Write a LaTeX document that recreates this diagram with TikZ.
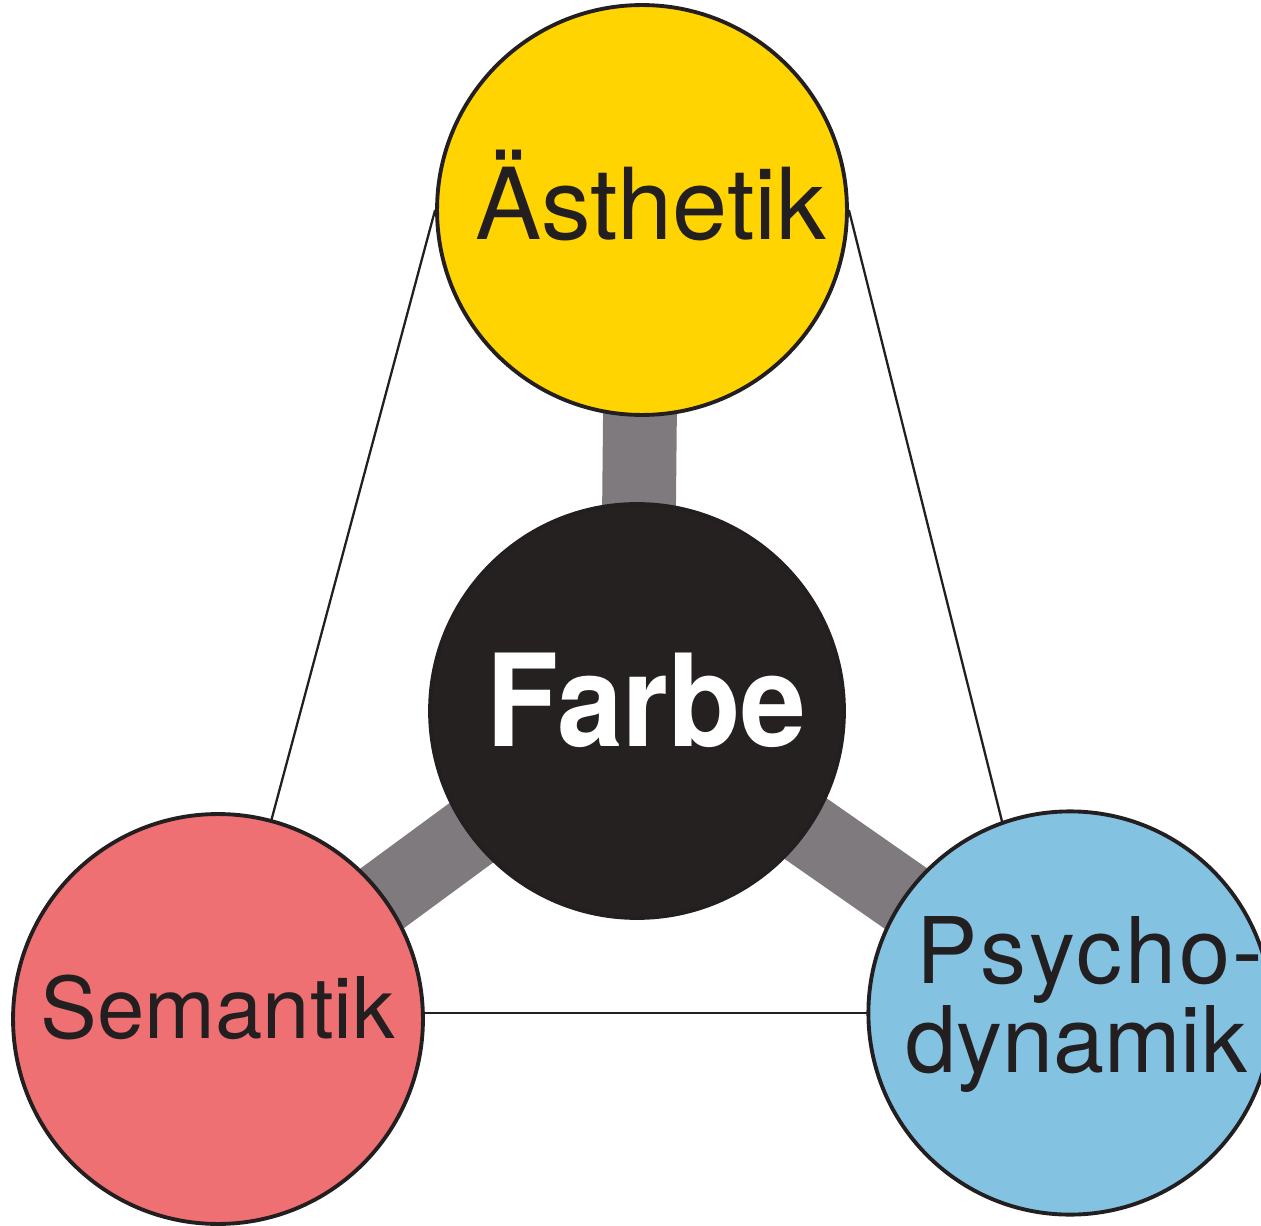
\documentclass[tikz,border=0pt]{standalone}
\usepackage{fontspec}
\setmainfont{TeX Gyre Heros}
\newfontfamily\farbefont{TeX Gyre Heros}[FakeStretch=0.92]
\usetikzlibrary{backgrounds}
\definecolor{aestgelb}{RGB}{255,212,0}
\definecolor{semrot}{RGB}{238,112,114}
\definecolor{psyblau}{RGB}{132,194,226}
\definecolor{kern}{RGB}{38,33,33}
\definecolor{balkengrau}{RGB}{126,122,126}
\definecolor{umriss}{RGB}{35,31,32}
\tikzset{kreis/.style={circle,draw=umriss,line width=2.2pt,minimum size=8.2cm,inner sep=0pt,
    text=umriss,align=center}}
\tikzset{balken/.style={draw=balkengrau,line width=42pt}}
\tikzset{linie/.style={draw=umriss,line width=1.3pt}}
\begin{document}
\begin{tikzpicture}[x=0.02cm,y=-0.02cm]
  \useasboundingbox (0,0) rectangle (1261,1226);
  % die vier Kreise
  \node[kreis,fill=aestgelb,font=\fontsize{56.5}{56.5}\selectfont] (aest) at (642,210) {\hspace*{10pt}\raisebox{17pt}{Ästhetik}};
  \node[kreis,fill=kern,text=white,minimum size=8.28cm,font=\farbefont\bfseries\fontsize{73}{73}\selectfont] (farbe) at (637,711) {\hspace*{11pt}\raisebox{13pt}{Farbe}};
  \node[kreis,fill=semrot,font=\fontsize{48.4}{48.4}\selectfont] (sem) at (218,1019) {\raisebox{14pt}{Semantik}};
  \node[kreis,fill=psyblau,minimum size=8.04cm,font=\fontsize{52.3}{45.4}\selectfont,text depth=21pt] (psy) at (1070,1013)
    {\makebox[0pt]{\hspace*{23pt}\addfontfeature{LetterSpace=3}Psycho-}\\\hspace*{7pt}dynamik};
  \coordinate (psyend) at (1050,1013);
  % Balken und Linien dahinter
  \begin{scope}[on background layer]
    \draw[balken] (farbe.center) -- (aest.center);
    \draw[balken] (farbe.center) -- (sem.center);
    \draw[balken] (farbe.center) -- (psy.center);
    \draw[linie] (aest.west) -- (sem.center);
    \draw[linie] (aest.east) -- (psyend);
    \draw[linie] (psy.center -| sem.center) -- (psy.center);
  \end{scope}
\end{tikzpicture}
\end{document}
